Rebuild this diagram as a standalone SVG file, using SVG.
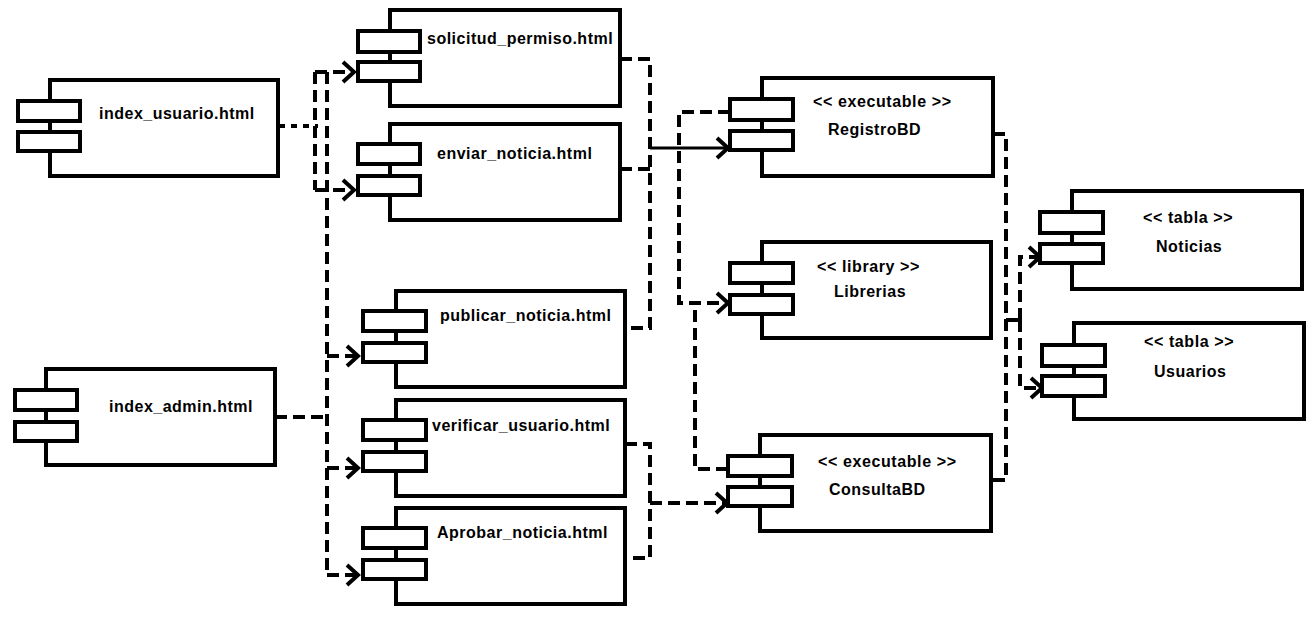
<svg xmlns="http://www.w3.org/2000/svg" width="1308" height="618" viewBox="0 0 1308 618">
<style>
.box{fill:#fff;stroke:#000;stroke-width:4}
.t{font-family:"Liberation Sans",Arial,sans-serif;font-weight:bold;font-size:16px;letter-spacing:0.5px;fill:#000}
.s{font-family:"Liberation Sans",Arial,sans-serif;font-weight:bold;font-size:16px;letter-spacing:0.6px;fill:#000}
.c{fill:none;stroke:#000;stroke-width:4;stroke-dasharray:12 6}
.d{fill:none;stroke:#000;stroke-width:4;stroke-dasharray:6 6}
.solid{fill:none;stroke:#000;stroke-width:3}
</style>
<defs>
<marker id="arr" markerUnits="userSpaceOnUse" markerWidth="16" markerHeight="26" refX="13" refY="12" orient="auto">
<path d="M2,2 L13,12 L2,22" fill="none" stroke="#000" stroke-width="4" stroke-dasharray="none"/>
</marker>
</defs>
<rect width="1308" height="618" fill="#fff"/>

<g id="connectors">
<path class="d" d="M279,126 H318"/>
<path class="c" d="M315,72 V190"/>
<path class="c" d="M315,72 H354" marker-end="url(#arr)"/>
<path class="c" d="M315,190 H354" marker-end="url(#arr)"/>
<path class="c" d="M275,417 H327"/>
<path class="c" d="M327,72 V575"/>
<path class="c" d="M327,356 H358" marker-end="url(#arr)"/>
<path class="c" d="M327,468 H358" marker-end="url(#arr)"/>
<path class="c" d="M327,575 H358" marker-end="url(#arr)"/>
<path class="c" d="M620,59 H650 V328 H625"/>
<path class="c" d="M620,169 H650"/>
<path class="solid" d="M650,148 H728" marker-end="url(#arr)"/>
<path class="c" d="M730,112 H679 V303 H728" marker-end="url(#arr)"/>
<path class="c" d="M728,469 H695 V305"/>
<path class="c" d="M625,444 H650 V558 H625"/>
<path class="c" d="M650,503 H727" marker-end="url(#arr)"/>
<path class="c" d="M993,134 H1006 V480 H991"/>
<path class="c" d="M1006,320 H1020"/>
<path class="c" d="M1020,320 V257 H1040" marker-end="url(#arr)"/>
<path class="c" d="M1020,320 V388 H1042" marker-end="url(#arr)"/>
</g>

<g id="index_usuario">
<rect class="box" x="50" y="80" width="228" height="96"/>
<rect class="box" x="18" y="101" width="62" height="20"/>
<rect class="box" x="18" y="132" width="62" height="19"/>
<text class="t" x="99" y="119">index_usuario.html</text>
</g>
<g id="index_admin">
<rect class="box" x="46" y="369" width="229" height="96"/>
<rect class="box" x="15" y="390" width="62" height="20"/>
<rect class="box" x="15" y="422" width="62" height="19"/>
<text class="t" x="109" y="412">index_admin.html</text>
</g>
<g id="solicitud_permiso">
<rect class="box" x="390" y="10" width="230" height="96"/>
<rect class="box" x="358" y="31" width="62" height="21"/>
<rect class="box" x="358" y="62" width="62" height="19"/>
<text class="t" x="427" y="44">solicitud_permiso.html</text>
</g>
<g id="enviar_noticia">
<rect class="box" x="390" y="124" width="230" height="96"/>
<rect class="box" x="358" y="144" width="62" height="20"/>
<rect class="box" x="358" y="176" width="62" height="19"/>
<text class="t" x="437" y="159">enviar_noticia.html</text>
</g>
<g id="publicar_noticia">
<rect class="box" x="396" y="291" width="229" height="96"/>
<rect class="box" x="363" y="311" width="63" height="20"/>
<rect class="box" x="363" y="343" width="63" height="19"/>
<text class="t" x="440" y="321">publicar_noticia.html</text>
</g>
<g id="verificar_usuario">
<rect class="box" x="396" y="400" width="229" height="96"/>
<rect class="box" x="363" y="420" width="63" height="20"/>
<rect class="box" x="363" y="452" width="63" height="19"/>
<text class="t" x="432" y="431">verificar_usuario.html</text>
</g>
<g id="aprobar_noticia">
<rect class="box" x="396" y="508" width="229" height="96"/>
<rect class="box" x="363" y="528" width="63" height="20"/>
<rect class="box" x="363" y="560" width="63" height="19"/>
<text class="t" x="437" y="538">Aprobar_noticia.html</text>
</g>
<g id="registrobd">
<rect class="box" x="762" y="78" width="231" height="98"/>
<rect class="box" x="730" y="99" width="63" height="21"/>
<rect class="box" x="730" y="131" width="63" height="19"/>
<text class="s" x="813" y="107">&lt;&lt; executable &gt;&gt;</text>
<text class="t" x="828" y="135">RegistroBD</text>
</g>
<g id="librerias">
<rect class="box" x="762" y="242" width="229" height="96"/>
<rect class="box" x="730" y="263" width="63" height="20"/>
<rect class="box" x="730" y="295" width="63" height="19"/>
<text class="s" x="817" y="272">&lt;&lt; library &gt;&gt;</text>
<text class="t" x="834" y="297">Librerias</text>
</g>
<g id="consultabd">
<rect class="box" x="760" y="435" width="231" height="96"/>
<rect class="box" x="728" y="456" width="64" height="20"/>
<rect class="box" x="728" y="487" width="64" height="19"/>
<text class="s" x="818" y="467">&lt;&lt; executable &gt;&gt;</text>
<text class="t" x="829" y="495">ConsultaBD</text>
</g>
<g id="noticias">
<rect class="box" x="1072" y="191" width="230" height="98"/>
<rect class="box" x="1040" y="212" width="63" height="21"/>
<rect class="box" x="1040" y="244" width="63" height="19"/>
<text class="s" x="1143" y="223">&lt;&lt; tabla &gt;&gt;</text>
<text class="t" x="1156" y="252">Noticias</text>
</g>
<g id="usuarios">
<rect class="box" x="1074" y="323" width="230" height="96"/>
<rect class="box" x="1042" y="345" width="63" height="21"/>
<rect class="box" x="1042" y="376" width="63" height="20"/>
<text class="s" x="1144" y="347">&lt;&lt; tabla &gt;&gt;</text>
<text class="t" x="1154" y="377">Usuarios</text>
</g>
</svg>
